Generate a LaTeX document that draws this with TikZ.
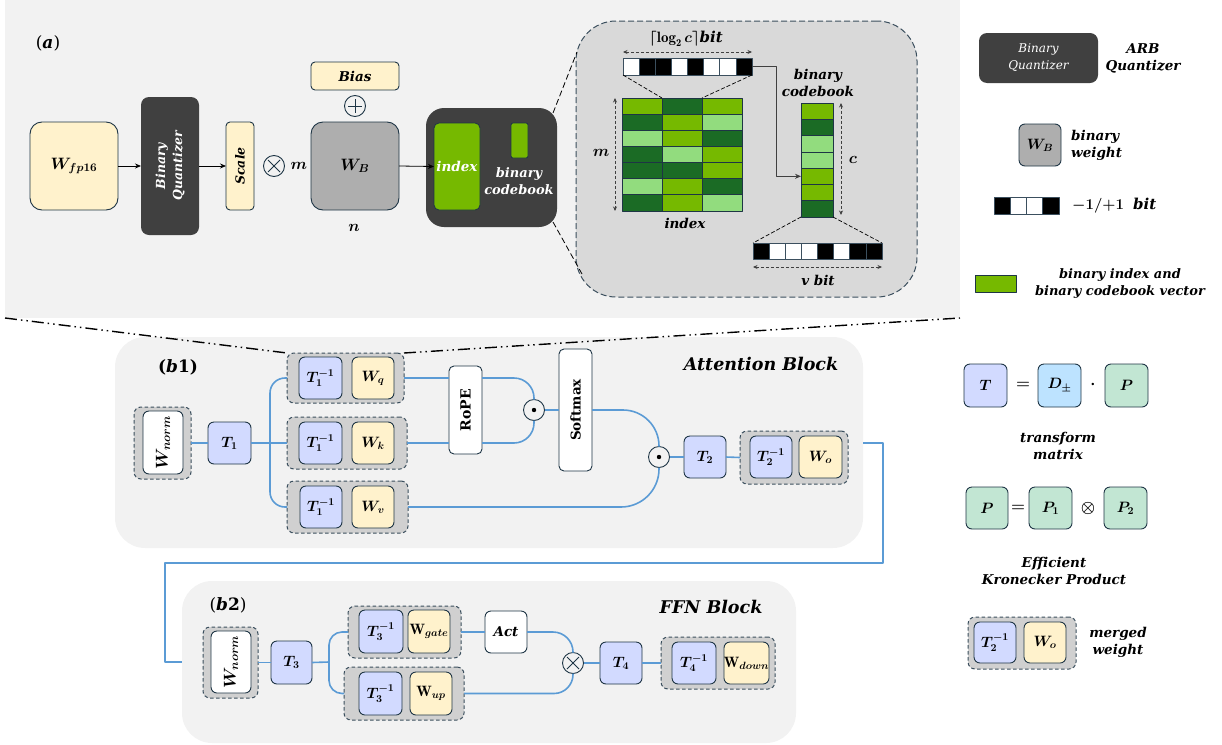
\RequirePackage{fix-cm}
\documentclass[tikz,border=0pt]{standalone}
\usepackage{amsmath}
\usepackage{bm}
\usepackage{fontspec}
\newfontfamily\lf{DejaVu Serif}
\usetikzlibrary{arrows.meta,calc}
\definecolor{bg}{HTML}{F2F2F2}
\definecolor{zp}{HTML}{D9D9D9}
\definecolor{dk}{HTML}{404040}
\definecolor{yl}{HTML}{FFF2CC}
\definecolor{gy}{HTML}{AEAEAE}
\definecolor{lv}{HTML}{D2DAFF}
\definecolor{bd}{HTML}{1E3545}
\definecolor{ln}{HTML}{5B9BD5}
\definecolor{mg}{HTML}{D0D0D0}
\definecolor{ds}{HTML}{3B4F5E}
\definecolor{gA}{HTML}{76B900}
\definecolor{gD}{HTML}{1B6B25}
\definecolor{gP}{HTML}{92DC7E}
\definecolor{sb}{HTML}{BDE3FF}
\definecolor{mt}{HTML}{C2E6D3}
\newcommand{\fsz}[2]{\fontsize{#1}{#2}\selectfont}
\newcommand{\bx}[7]{\node[inner sep=0pt,outer sep=0pt,#6,minimum width={(#4)-(#2)},minimum height={(#5)-(#3)}] (#1) at ({((#2)+(#4))/2},{((#3)+(#5))/2}) {#7};}
\begin{document}
\begin{tikzpicture}[x=1pt,y=-1pt,line join=round,
  box/.style={draw=bd,line width=0.9pt,rounded corners=6pt,font=\fsz{15}{17}},
  mrg/.style={draw=ds,dash pattern=on 3.5pt off 2.5pt,line width=1pt,fill=mg,rounded corners=7pt},
  wire/.style={draw=ln,line width=1.6pt},
  arr/.style={draw=black,line width=0.8pt,-{Stealth[length=6pt,width=5pt]}},
  dda/.style={draw=black!75,line width=0.7pt,dash pattern=on 3pt off 2pt,{Stealth[length=4.5pt,width=4pt]}-{Stealth[length=4.5pt,width=4pt]}},
  zl/.style={draw=black,line width=0.8pt,dash pattern=on 6pt off 3pt},
  ddl/.style={draw=black,line width=0.7pt,dash pattern=on 4pt off 2pt},
  dd/.style={draw=black,line width=1.4pt,dash pattern=on 12pt off 4pt on 1.5pt off 4pt on 1.5pt off 4pt},
  lbl/.style={font=\lf\fsz{13.5}{17}\bfseries\itshape,align=center,inner sep=0pt},
  big/.style={font=\lf\fsz{17.5}{20}\bfseries\itshape,inner sep=0pt},
  tag/.style={font=\lf\fsz{17}{20},inner sep=0pt},
  mth/.style={font=\fsz{16}{18},inner sep=0pt},
  circ/.style={circle,draw=bd,line width=0.9pt,minimum size=21pt,inner sep=0pt,outer sep=0pt},
  xcr/.style={line width=0.9pt,draw=bd},
]
\useasboundingbox (0,0) rectangle (1222,744);
% ---------------- panel (a)
\bx{pa}{5}{0}{960}{318}{fill=bg}{}
\node[tag] (la) at (48,43) {(\textbf{\textit{a}})};
\bx{wfp}{30}{122}{118}{210}{box,fill=yl,rounded corners=12pt,font=\fsz{16.5}{18}}{$\bm{W_{fp16}}$}
\bx{bq}{141}{97}{199}{235}{fill=dk,rounded corners=8pt}{}
\node[lbl,rotate=90,text=white,font=\lf\fsz{12.5}{17}\bfseries\itshape] (bqt) at (bq) {Binary\\Quantizer};
\bx{sc}{226}{122}{254}{210}{box,fill=yl,rounded corners=4pt}{}
\node[lbl,rotate=90,font=\lf\fsz{12.5}{15}\bfseries\itshape] (sct) at (sc) {Scale};
\node[circ] (ot) at (274,166) {};
\draw[xcr] ($(ot)+(-6,-6)$) -- ($(ot)+(6,6)$) ($(ot)+(6,-6)$) -- ($(ot)+(-6,6)$);
\node[mth] (mm) at (299,166) {$\bm{m}$};
\bx{wb}{311}{122}{399}{210}{box,fill=gy,rounded corners=12pt,font=\fsz{16.5}{18}}{$\bm{W_B}$}
\node[mth] (nn) at (354,228) {$\bm{n}$};
\node[circ] (op) at (355,106) {};
\draw[xcr] ($(op)+(0,-7)$) -- ($(op)+(0,7)$) ($(op)+(-7,0)$) -- ($(op)+(7,0)$);
\bx{bias}{311}{62}{399}{90}{box,fill=yl,rounded corners=4pt}{\lf\fsz{13.5}{15}\bfseries\itshape Bias}
\draw[arr] (wfp.east) -- (bq.west);
\draw[arr] (bq.east |- wfp.east) -- (sc.west);
\bx{dkb}{426}{108}{557}{227}{fill=dk,rounded corners=18pt}{}
\bx{idx}{434}{123}{480}{210}{fill=gA,draw=bd,line width=0.8pt,rounded corners=5pt}{}
\node[lbl,text=white,font=\lf\fsz{13.5}{17}\bfseries\itshape] (idxt) at (idx) {index};
\bx{sg}{511}{123}{528}{158}{fill=gA,draw=bd,line width=0.8pt,rounded corners=2pt}{}
\node[lbl,text=white,font=\lf\fsz{13}{17}\bfseries\itshape] (bct) at (519,181) {binary\\codebook};
\draw[arr] (wb.east) -- (idx.west);
% zoom panel
\bx{zpn}{576}{21}{917}{297}{fill=zp,draw=ds,dash pattern=on 6pt off 3pt,line width=1pt,rounded corners=40pt}{}
\draw[zl] ($(dkb.north east)+(-4,5)$) -- ($(zpn.north west)+(1,31)$);
\draw[zl] ($(dkb.south east)+(-4,-5)$) -- ($(zpn.south west)+(6,-23)$);
% top bit row
\foreach \v [count=\i from 0] in {white,black,black,white,black,white,white,black}
  \filldraw[fill=\v,draw=ds,line width=0.7pt] ({623+16.125*\i},58) rectangle ++(16.125,17);
\bx{brow}{623}{58}{752}{75}{}{}
\node[mth,font=\fsz{15}{17}] (logt) at (686,39) {$\bm{\lceil}\mathbf{log}_{\mathbf{2}}\,\bm{c\rceil}$\lf\bfseries\itshape bit};
\draw[dda] ($(brow.north west)+(0,-6)$) -- ($(brow.north east)+(0,-6)$);
% index matrix
\foreach \r/\ca/\cb/\cc in {0/gA/gD/gA,1/gD/gA/gP,2/gP/gA/gD,3/gD/gP/gA,4/gD/gD/gA,5/gP/gA/gD,6/gD/gA/gP}{
  \filldraw[draw=bd,line width=0.7pt,fill=\ca] (622,{98+16.14*\r}) rectangle ++(40,16.14);
  \filldraw[draw=bd,line width=0.7pt,fill=\cb] (662,{98+16.14*\r}) rectangle ++(40,16.14);
  \filldraw[draw=bd,line width=0.7pt,fill=\cc] (702,{98+16.14*\r}) rectangle ++(40,16.14);
}
\bx{imat}{622}{98}{742}{211}{}{}
\draw[ddl] (brow.south west) -- ($(imat.north west)!1/3!(imat.north east)$);
\draw[ddl] (brow.south east) -- ($(imat.north west)!2/3!(imat.north east)$);
\draw[dda] ($(imat.north west)+(-7,0)$) -- ($(imat.south west)+(-7,0)$);
\node[mth] (mlab) at (601,153) {$\bm{m}$};
\node[lbl] (ilab) at (685,223) {index};
% codebook
\foreach \v [count=\i from 0] in {gA,gD,gP,gP,gA,gA,gD}
  \filldraw[fill=\v,draw=bd,line width=0.7pt] (801,{103+16.3*\i}) rectangle ++(32,16.3);
\bx{cbk}{801}{103}{833}{217}{}{}
\node[lbl] (cbl) at (818,83) {binary\\codebook};
\draw[arr,draw=dk] (brow.east) -- ++(24,0) |- ($(cbk.north west)!0.643!(cbk.south west)$);
\draw[dda] ($(cbk.north east)+(8,0)$) -- ($(cbk.south east)+(8,-2)$);
\node[mth] (clab) at (853,160) {$\bm{c}$};
% v bit row
\foreach \v [count=\i from 0] in {black,white,white,white,black,white,black,black}
  \filldraw[fill=\v,draw=ds,line width=0.7pt] ({753+16.125*\i},243) rectangle ++(16.125,16);
\bx{vrow}{753}{243}{882}{259}{}{}
\draw[ddl] (cbk.south west) -- (vrow.north west);
\draw[ddl] (cbk.south east) -- (vrow.north east);
\draw[dda] ($(vrow.south west)+(0,8)$) -- ($(vrow.south east)+(0,8)$);
\node[lbl] (vlab) at (818,280) {v bit};
% ---------------- legend top
\bx{lbq}{979}{33}{1098}{83}{fill=dk,rounded corners=8pt}{}
\node[lbl,text=white,font=\lf\fsz{12}{17}\itshape] (lbqt) at (lbq) {Binary\\Quantizer};
\node[lbl] (arb) at (1143,58) {ARB\\Quantizer};
\bx{lwb}{1019}{124}{1061}{166}{box,fill=gy,rounded corners=6pt}{$\bm{W_B}$}
\node[lbl,align=left,anchor=west] (lwbt) at (1071,145) {binary\\weight};
\foreach \v [count=\i from 0] in {black,white,white,black}
  \filldraw[fill=\v,draw=ds,line width=0.7pt] ({994+16.25*\i},197) rectangle ++(16.25,17);
\bx{lbit}{994}{197}{1059}{214}{}{}
\node[mth,anchor=west,font=\fsz{15}{17}] (lbitt) at (1072,206) {$\bm{-1/{+}1}$\ \ \lf\bfseries\itshape bit};
\bx{lg}{975}{275}{1016}{292}{fill=gA,draw=bd,line width=0.8pt}{}
\node[lbl,font=\lf\fsz{13}{17}\bfseries\itshape] (lgt) at (1120,284) {binary index and\\binary codebook vector};
% ---------------- panel (b1)
\bx{p1}{115}{337}{863}{548}{fill=bg,rounded corners=30pt}{}
\node[tag] (lb1) at (178,367) {\bfseries(\textit{b}1)};
\node[big] (att) at (761,364) {Attention Block};
\bx{wnm1}{134}{407}{191}{479}{mrg}{}
\bx{wn1}{143}{411}{183}{474}{box,fill=white,rounded corners=6pt}{}
\node[rotate=90,font=\fsz{17}{18}] (wn1t) at (wn1) {$\bm{W_{norm}}$};
\bx{t1}{208}{422}{251}{464}{box,fill=lv}{$\bm{T_1}$}
\bx{qm}{287}{353}{404}{403}{mrg}{}
\bx{qt}{299}{357}{342}{399}{box,fill=lv}{$\bm{T_1^{-1}}$}
\bx{qw}{352}{357}{394}{399}{box,fill=yl}{$\bm{W_q}$}
\bx{km}{287}{417}{407}{469}{mrg}{}
\bx{kt}{299}{422}{342}{464}{box,fill=lv}{$\bm{T_1^{-1}}$}
\bx{kw}{352}{422}{394}{464}{box,fill=yl}{$\bm{W_k}$}
\bx{vm}{287}{481}{408}{533}{mrg}{}
\bx{vt}{300}{486}{342}{528}{box,fill=lv}{$\bm{T_1^{-1}}$}
\bx{vw}{352}{486}{394}{528}{box,fill=yl}{$\bm{W_v}$}
\bx{rope}{449}{366}{482}{454}{box,fill=white,rounded corners=5pt}{}
\node[rotate=90,font=\lf\fsz{14}{16}\bfseries] (ropet) at (rope) {RoPE};
\node[circ] (od1) at (534,410) {};
\fill (od1) circle (2.2pt);
\bx{sm}{559}{349}{592}{471}{box,fill=white,rounded corners=5pt}{}
\node[rotate=90,font=\lf\fsz{13.5}{16}\bfseries] (smt) at (sm) {Softmax};
\node[circ] (od2) at (659,457) {};
\fill (od2) circle (2.2pt);
\bx{t2}{684}{436}{726}{478}{box,fill=lv}{$\bm{T_2}$}
\bx{om}{740}{431}{848}{484}{mrg}{}
\bx{omt}{750}{436}{792}{478}{box,fill=lv}{$\bm{T_2^{-1}}$}
\bx{omw}{799}{436}{842}{478}{box,fill=yl}{$\bm{W_o}$}
\coordinate (b1x) at (270,443);
\draw[wire] (wnm1.east) -- (t1.west);
\draw[wire] (t1.east) -- (km.west);
\draw[wire,rounded corners=15pt] (qm.west) -| (b1x) |- (vm.west);
\draw[wire] (qm.east) -- (qm.east -| rope.west);
\draw[wire] (km.east) -- (km.east -| rope.west);
\draw[wire,rounded corners=20pt] (qm.east -| rope.east) -| (od1.north);
\draw[wire,rounded corners=20pt] (km.east -| rope.east) -| (od1.south);
\draw[wire] (od1.east) -- (od1.east -| sm.west);
\draw[wire,rounded corners=36pt] (od1.east -| sm.east) -| (od2.north);
\draw[wire,rounded corners=38pt] (vm.east) -| (od2.south);
\draw[wire] (od2.east) -- (t2.west);
\draw[wire] (t2.east) -- (om.west);
% dash-dot projection lines
\draw[dd] (pa.south west) -- (qm.north west);
\draw[dd] (qm.north east) -- (pa.south east);
% ---------------- panel (b2)
\bx{p2}{182}{581}{796}{743}{fill=bg,rounded corners=30pt}{}
\node[tag] (lb2) at (228,605) {(\textbf{\textit{b}2})};
\node[big] (ffn) at (711,607) {FFN Block};
\bx{wnm2}{203}{627}{258}{698}{mrg}{}
\bx{wn2}{211}{631}{251}{693}{box,fill=white,rounded corners=6pt}{}
\node[rotate=90,font=\fsz{17}{18}] (wn2t) at (wn2) {$\bm{W_{norm}}$};
\bx{t3}{271}{641}{312}{684}{box,fill=lv}{$\bm{T_3}$}
\bx{gm}{348}{606}{461}{658}{mrg}{}
\bx{gt}{359}{610}{403}{653}{box,fill=lv}{$\bm{T_3^{-1}}$}
\bx{gw}{408}{610}{450}{653}{box,fill=yl}{$\mathbf{W}_{\bm{gate}}$}
\bx{um}{344}{667}{464}{720}{mrg}{}
\bx{ut}{359}{672}{402}{715}{box,fill=lv}{$\bm{T_3^{-1}}$}
\bx{uw}{410}{672}{452}{715}{box,fill=yl}{$\mathbf{W}_{\bm{up}}$}
\bx{act}{485}{611}{527}{653}{box,fill=white}{\lf\fsz{13.5}{15}\bfseries\itshape Act}
\node[circ] (ox) at (573,663) {};
\draw[xcr] ($(ox)+(-6,-6)$) -- ($(ox)+(6,6)$) ($(ox)+(6,-6)$) -- ($(ox)+(-6,6)$);
\bx{t4}{600}{642}{642}{684}{box,fill=lv}{$\bm{T_4}$}
\bx{dm}{661}{637}{775}{689}{mrg}{}
\bx{dt}{672}{642}{716}{684}{box,fill=lv}{$\bm{T_4^{-1}}$}
\bx{dw}{724}{642}{769}{684}{box,fill=yl}{$\mathbf{W}_{\bm{down}}$}
\coordinate (b2x) at (329,662);
\draw[wire] (wnm2.east) -- (t3.west);
\draw[wire] (t3.east) -- (b2x);
\draw[wire,rounded corners=13pt] (gm.west) -| (b2x) |- (um.west);
\draw[wire] (gm.east) -- (act.west);
\draw[wire,rounded corners=20pt] (act.east) -| (ox.north);
\draw[wire,rounded corners=19pt] (um.east) -| (ox.south);
\draw[wire] (ox.east) -- (t4.west);
\draw[wire] (t4.east) -- (dm.west);
% connector between blocks
\draw[wire] (p1.east |- km.east) -- ++(20,0) |- (165,563) |- (p2.west);
% ---------------- legend bottom
\bx{lt}{964}{364}{1007}{407}{box,fill=lv}{$\bm{T}$}
\node[mth] (eq1) at (1023,385) {$\bm{=}$};
\bx{ld}{1038}{364}{1081}{407}{box,fill=sb}{$\bm{D_{\pm}}$}
\node[mth] (cd) at (1093,385) {$\bm{\cdot}$};
\bx{lp}{1105}{364}{1148}{407}{box,fill=mt}{$\bm{P}$}
\node[lbl] (tm) at (1058,446) {transform\\matrix};
\bx{lp0}{966}{487}{1008}{529}{box,fill=mt}{$\bm{P}$}
\node[mth] (eq2) at (1018,508) {$\bm{=}$};
\bx{lp1}{1029}{487}{1072}{529}{box,fill=mt}{$\bm{P_1}$}
\node[mth] (otl) at (1088,508) {$\bm{\otimes}$};
\bx{lp2}{1104}{487}{1147}{529}{box,fill=mt}{$\bm{P_2}$}
\node[lbl] (ekp) at (1054,571) {Efficient\\Kronecker Product};
\bx{lm}{968}{617}{1076}{669}{mrg}{}
\bx{lmt}{974}{622}{1016}{663}{box,fill=lv}{$\bm{T_2^{-1}}$}
\bx{lmw}{1024}{622}{1066}{663}{box,fill=yl}{$\bm{W_o}$}
\node[lbl] (mw) at (1118,642) {merged\\weight};
\end{tikzpicture}
\end{document}
